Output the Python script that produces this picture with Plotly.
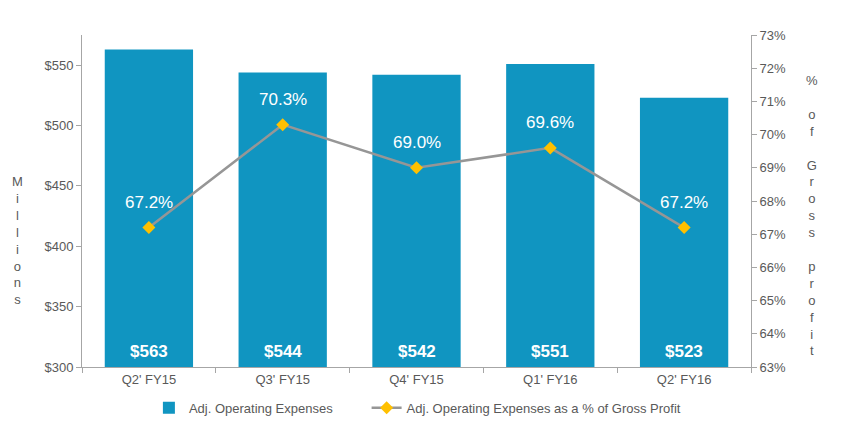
import plotly.graph_objects as go

quarters = ["Q2' FY15", "Q3' FY15", "Q4' FY15", "Q1' FY16", "Q2' FY16"]
opex = [563, 544, 542, 551, 523]
opex_pct = [67.2, 70.3, 69.0, 69.6, 67.2]

left_ticks = [300, 350, 400, 450, 500, 550]
right_ticks = list(range(63, 74))

BAR = "#1095C1"
GREY = "#595959"
AXIS = "#A6A6A6"
FONT = "Liberation Sans, Arial, sans-serif"

fig = go.Figure()

fig.add_trace(go.Bar(
    x=quarters, y=opex,
    # trailing non-breaking spaces widen the gap between legend entries
    name="Adj. Operating Expenses" + "\u00a0" * 8,
    marker=dict(color=BAR, line=dict(width=0)),
    width=0.66,
))

fig.add_trace(go.Scatter(
    x=quarters, y=opex_pct, name="Adj. Operating Expenses as a % of Gross Profit",
    yaxis="y2", mode="lines+markers",
    line=dict(color="#969696", width=2.5),
    marker=dict(symbol="diamond", size=10, color="#FFC000"),
))

# dollar labels sit at the foot of each bar
for q, v in zip(quarters, opex):
    fig.add_annotation(x=q, y=left_ticks[0], text="<b>$%d</b>" % v, showarrow=False,
                       yanchor="bottom", yshift=4,
                       font=dict(color="white", size=17, family=FONT))

# percentage labels above each marker
for q, p in zip(quarters, opex_pct):
    fig.add_annotation(x=q, y=p, yref="y2", text="%.1f%%" % p, showarrow=False,
                       yanchor="middle", yshift=25,
                       font=dict(color="white", size=17, family=FONT))

# stacked-letter axis titles, like the original
left_title = "<br>".join("Millions")
right_title = "<br>".join(c if c != " " else "" for c in "% of Gross profit")

fig.add_annotation(text=left_title, xref="paper", yref="paper", x=-0.097, y=0.38,
                   xanchor="center", yanchor="middle", showarrow=False,
                   font=dict(size=13, color=GREY, family=FONT))
fig.add_annotation(text=right_title, xref="paper", yref="paper", x=1.091, y=0.455,
                   xanchor="center", yanchor="middle", showarrow=False,
                   font=dict(size=13, color=GREY, family=FONT))

# the page adds 8px around the figure, so margins are offset by that much
fig.update_layout(
    width=844, height=431,
    margin=dict(l=74, r=101, t=27, b=72, autoexpand=False),
    plot_bgcolor="white", paper_bgcolor="white",
    font=dict(family=FONT, size=13, color=GREY),
    showlegend=True,
    legend=dict(orientation="h", x=0.1, xanchor="left", y=-0.123, yanchor="middle",
                font=dict(size=13, color=GREY), traceorder="normal"),
    xaxis=dict(type="category", showline=True, linecolor=AXIS, linewidth=1,
               ticks="outside", tickson="boundaries", ticklen=5, tickcolor=AXIS,
               showgrid=False, automargin=False),
    yaxis=dict(range=[300, 575], tickvals=left_ticks,
               ticktext=["$%d" % v for v in left_ticks],
               showline=True, linecolor=AXIS, ticks="outside", ticklen=5,
               tickcolor=AXIS, showgrid=False, zeroline=False, automargin=False),
    yaxis2=dict(range=[63, 73], tickvals=right_ticks,
                ticktext=["%d%%" % v for v in right_ticks],
                overlaying="y", side="right",
                showline=True, linecolor=AXIS, ticks="outside", ticklen=5,
                tickcolor=AXIS, showgrid=False, zeroline=False, automargin=False),
)

fig.write_html("out.html")
